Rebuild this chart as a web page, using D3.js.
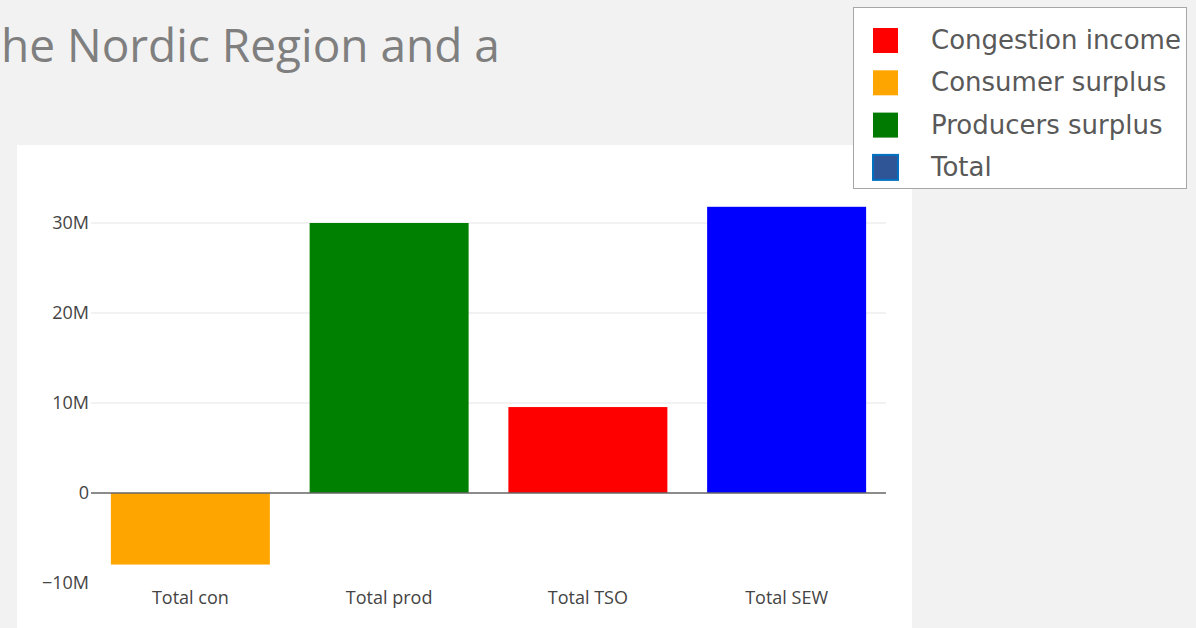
<!DOCTYPE html>
<html>
<head>
<meta charset="utf-8">
<script src="https://cdn.jsdelivr.net/npm/d3@7"></script>
<style>
  body { margin: 0; background: #f2f2f2; }
  svg { display: block; }
</style>
</head>
<body>
<svg id="chart" width="1196" height="628"></svg>
<script>
// chart data
const categories = ["Total con", "Total prod", "Total TSO", "Total SEW"];
const values = [-7.95e6, 30.0e6, 9.55e6, 31.8e6];
const barColors = ["#ffa500", "#008000", "#ff0000", "#0000ff"];
const yTicks = [-10e6, 0, 10e6, 20e6, 30e6];
const legendLabels = ["Congestion income", "Consumer surplus", "Producers surplus", "Total"];
const legendColors = ["#ff0000", "#ffa500", "#007a00", "#2f5597"];
const titleText = "he Nordic Region and a";

const svg = d3.select("#chart");

svg.append("rect")
    .attr("width", 1196).attr("height", 628)
    .attr("fill", "#f2f2f2");

// slide title fragment
svg.append("text")
    .attr("x", 1)
    .attr("y", 62)
    .attr("font-family", "'Open Sans', sans-serif")
    .attr("font-size", 46)
    .attr("fill", "#7f7f7f")
    .text(titleText);

// white chart panel
svg.append("rect")
    .attr("x", 17).attr("y", 145)
    .attr("width", 895).attr("height", 490)
    .attr("fill", "#ffffff");

const x = d3.scaleBand()
    .domain(categories)
    .range([91, 886])
    .paddingInner(0.2)
    .paddingOuter(0.1);

const y = d3.scaleLinear()
    .domain([-10e6, 33e6])
    .range([583, 196]);

const fmt = v => v === 0 ? "0" : (v < 0 ? "\u2212" : "") + Math.abs(v / 1e6) + "M";

// gridlines
const grid = svg.append("g");
grid.selectAll("line")
    .data(yTicks.filter(t => t > 0))
    .enter()
    .append("line")
    .attr("x1", 91).attr("x2", 886)
    .attr("y1", d => y(d)).attr("y2", d => y(d))
    .attr("stroke", "#eeeeee")
    .attr("stroke-width", 1.5);

// bars
svg.append("g").selectAll("rect")
    .data(categories)
    .enter()
    .append("rect")
    .attr("x", d => x(d))
    .attr("width", x.bandwidth())
    .attr("y", (d, i) => Math.min(y(values[i]), y(0)))
    .attr("height", (d, i) => Math.abs(y(values[i]) - y(0)))
    .attr("fill", (d, i) => barColors[i]);

// zero line
svg.append("line")
    .attr("x1", 91).attr("x2", 886)
    .attr("y1", y(0)).attr("y2", y(0))
    .attr("stroke", "#666")
    .attr("stroke-width", 1.5);

// y axis labels
svg.append("g").selectAll("text")
    .data(yTicks)
    .enter()
    .append("text")
    .attr("x", 89)
    .attr("y", d => y(d))
    .attr("dy", "0.35em")
    .attr("text-anchor", "end")
    .attr("font-family", "'Open Sans', sans-serif")
    .attr("font-size", 18)
    .attr("fill", "#444")
    .text(fmt);

// x axis labels
svg.append("g").selectAll("text")
    .data(categories)
    .enter()
    .append("text")
    .attr("x", d => x(d) + x.bandwidth() / 2)
    .attr("y", 604)
    .attr("text-anchor", "middle")
    .attr("font-family", "'Open Sans', sans-serif")
    .attr("font-size", 18)
    .attr("fill", "#444")
    .text(d => d);

// legend box
const legend = svg.append("g");
legend.append("rect")
    .attr("x", 853.5).attr("y", 7.5)
    .attr("width", 333).attr("height", 181)
    .attr("fill", "#ffffff")
    .attr("stroke", "#a6a6a6")
    .attr("stroke-width", 1);

const items = legend.selectAll("g.item")
    .data(legendLabels)
    .enter()
    .append("g")
    .attr("class", "item")
    .attr("transform", (d, i) => `translate(0,${40 + i * 42.3})`);

items.append("rect")
    .attr("x", 873).attr("y", -12)
    .attr("width", 25).attr("height", 25)
    .attr("fill", (d, i) => legendColors[i])
    .attr("stroke", (d, i) => i === 3 ? "#0070c0" : "none")
    .attr("stroke-width", 2);

items.append("text")
    .attr("x", 931)
    .attr("y", 0)
    .attr("dy", "0.35em")
    .attr("font-family", "'DejaVu Sans', Verdana, sans-serif")
    .attr("font-size", 26)
    .attr("fill", "#595959")
    .text(d => d);
</script>
</body>
</html>
